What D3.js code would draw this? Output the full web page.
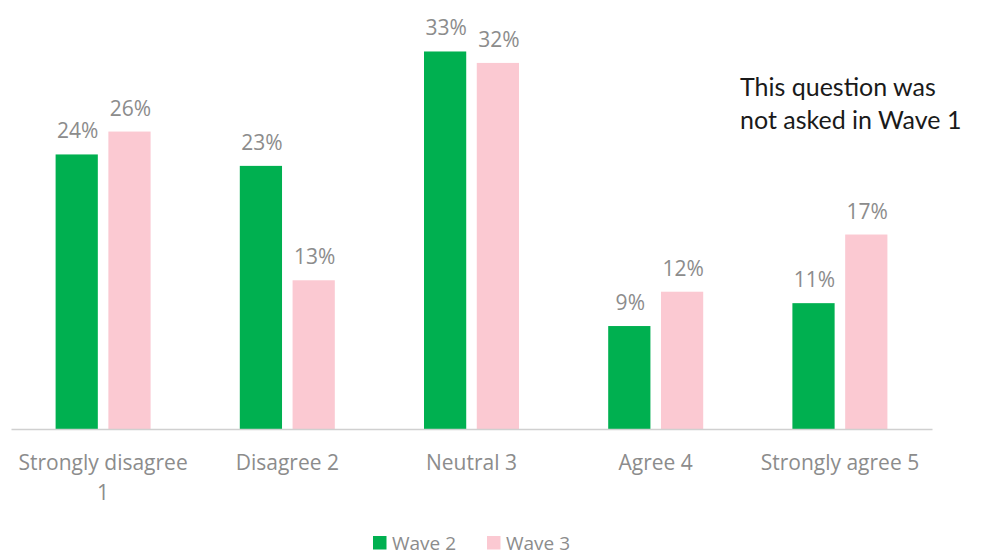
<!DOCTYPE html>
<html>
<head>
<meta charset="utf-8">
<script src="https://cdn.jsdelivr.net/npm/d3@7"></script>
<style>
  html, body { margin: 0; padding: 0; background: #fff; }
  svg { display: block; }
</style>
</head>
<body>
<svg id="chart" width="981" height="556"></svg>
<script>
// Response categories on the agreement scale
const categories = [
  ["Strongly disagree", "1"],
  ["Disagree 2"],
  ["Neutral 3"],
  ["Agree 4"],
  ["Strongly agree 5"]
];
const categoryKeys = ["sd", "d", "n", "a", "sa"];
const seriesNames = ["Wave 2", "Wave 3"];
const wave2 = [24, 23, 33, 9, 11];
const wave3 = [26, 13, 32, 12, 17];
const seriesColors = ["#00b050", "#fbc9d2"];
const note = ["This question was", "not asked in Wave 1"];

const svg = d3.select("#chart");
const labelFont = "'Open Sans', 'Noto Sans', sans-serif";
const grey = "#8c8c8c";

const baseline = 429;
const x0 = d3.scaleBand().domain(categoryKeys).range([11, 932]).padding(0);
const x1 = d3.scaleBand().domain(seriesNames).range([0, 95]).paddingInner(0.2);
const y = d3.scaleLinear().domain([0, 37.5]).range([baseline, 0]);

const rows = categoryKeys.map((k, i) => ({
  key: k,
  values: [
    { series: seriesNames[0], value: wave2[i], color: seriesColors[0] },
    { series: seriesNames[1], value: wave3[i], color: seriesColors[1] }
  ]
}));

const groups = svg.selectAll("g.group")
  .data(rows)
  .join("g")
  .attr("class", "group")
  .attr("transform", d => `translate(${x0(d.key) + x0.bandwidth() / 2 - 47.5},0)`);

groups.selectAll("rect")
  .data(d => d.values)
  .join("rect")
  .attr("x", d => x1(d.series))
  .attr("y", d => y(d.value))
  .attr("width", x1.bandwidth())
  .attr("height", d => y(0) - y(d.value))
  .attr("fill", d => d.color);

groups.selectAll("text.val")
  .data(d => d.values)
  .join("text")
  .attr("class", "val")
  .attr("x", d => x1(d.series) + x1.bandwidth() / 2 + 1)
  .attr("y", d => y(d.value) - 16)
  .attr("text-anchor", "middle")
  .attr("font-family", labelFont)
  .attr("font-size", 21)
  .attr("fill", grey)
  .text(d => d.value + "%");

// Category axis
const xAxis = svg.append("g")
  .attr("transform", `translate(0,${baseline})`)
  .call(d3.axisBottom(x0).tickSize(0).tickPadding(0).tickFormat(() => ""));
xAxis.select(".domain").attr("stroke", "#d0d0d0").attr("stroke-width", 1.5);
xAxis.selectAll(".tick text").remove();
xAxis.selectAll(".tick")
  .append("text")
  .attr("text-anchor", "middle")
  .attr("font-family", labelFont)
  .attr("font-size", 21)
  .attr("fill", grey)
  .selectAll("tspan")
  .data((d, i) => categories[i])
  .join("tspan")
  .attr("x", 0)
  .attr("y", (d, j) => 41 + j * 30)
  .text(d => d);

// Legend
const legend = svg.append("g").attr("transform", "translate(373,536)");
const legendX = [0, 114];
seriesNames.forEach((s, i) => {
  const g = legend.append("g").attr("transform", `translate(${legendX[i]},0)`);
  g.append("rect").attr("x", 0).attr("y", 0).attr("width", 13.5).attr("height", 13.5).attr("fill", seriesColors[i]);
  g.append("text")
    .attr("x", 19).attr("y", 13.5)
    .attr("font-family", labelFont)
    .attr("font-size", 19)
    .attr("fill", grey)
    .text(s);
});

// Side note
svg.append("text")
  .attr("font-family", "Lato, 'Open Sans', sans-serif")
  .attr("font-size", 25)
  .attr("fill", "#1a1a1a")
  .selectAll("tspan")
  .data(note)
  .join("tspan")
  .attr("x", 740)
  .attr("y", (d, i) => 96 + i * 33)
  .text(d => d);
</script>
</body>
</html>
